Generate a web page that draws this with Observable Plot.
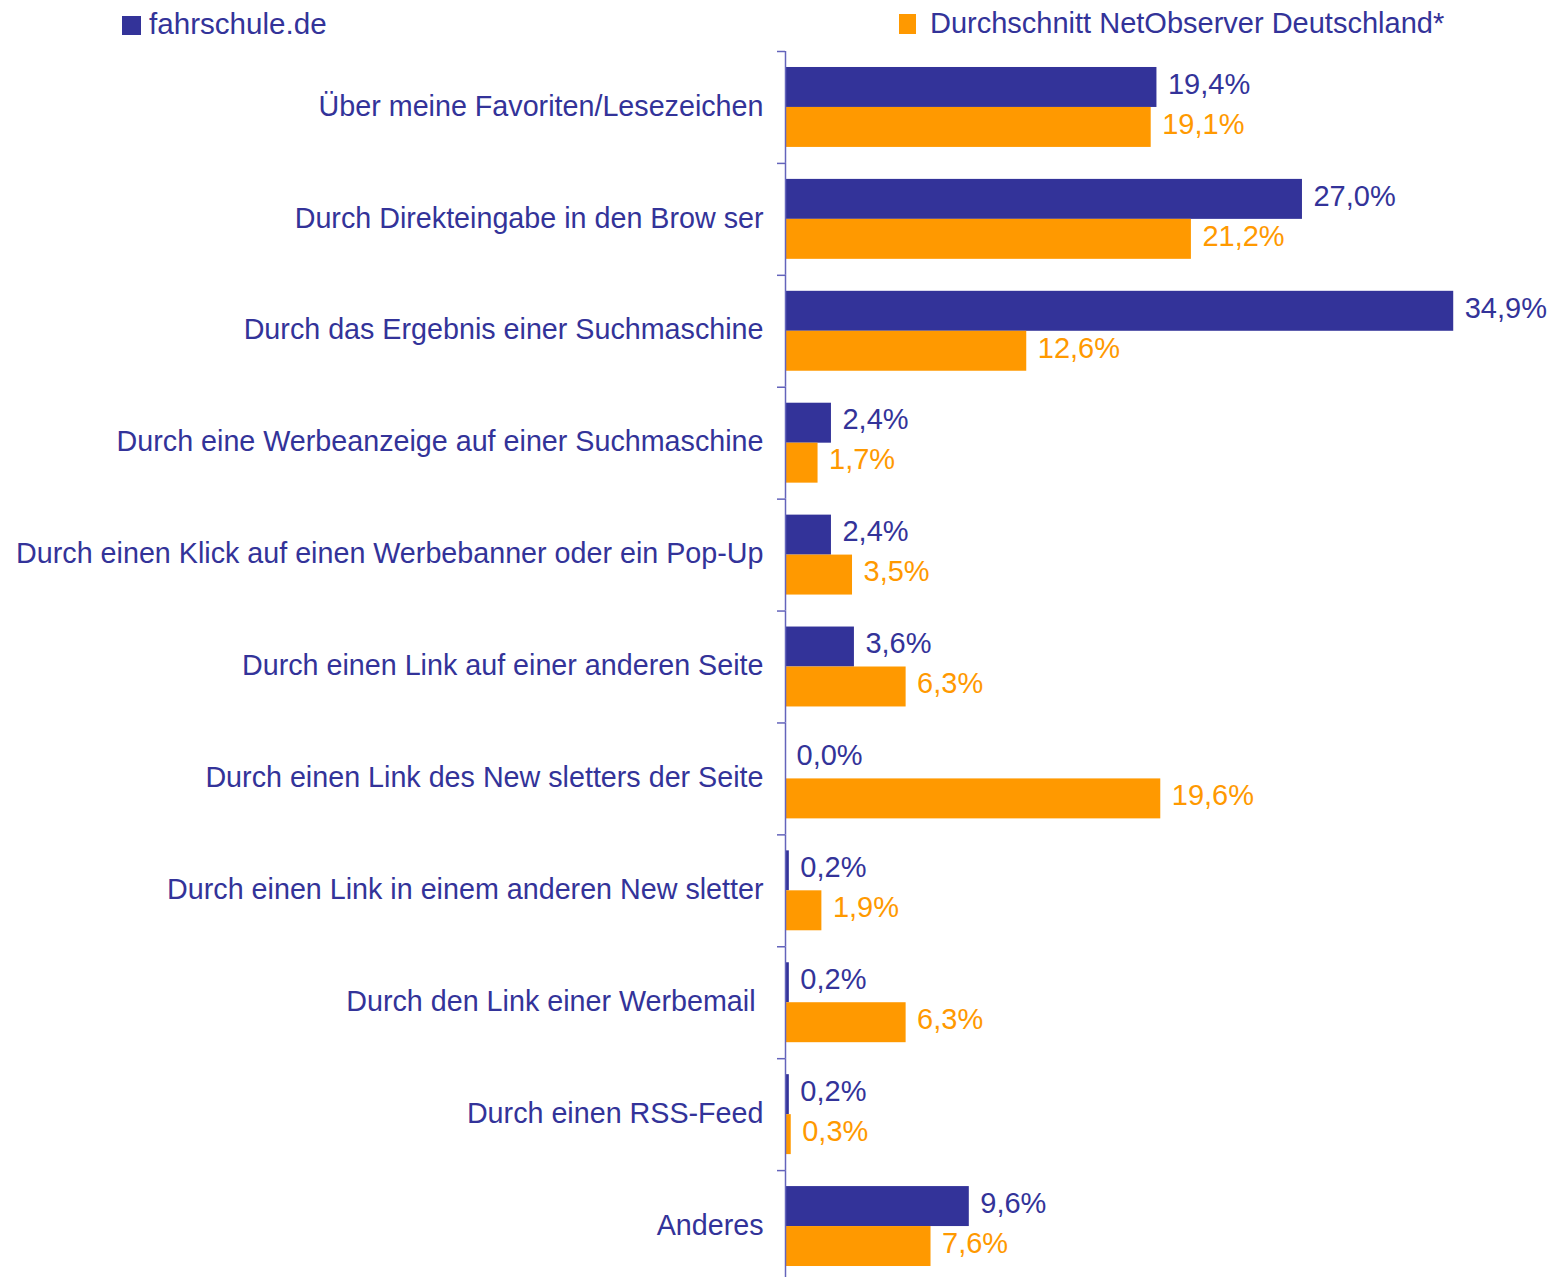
<!DOCTYPE html>
<html>
<head>
<meta charset="utf-8">
<script src="https://cdn.jsdelivr.net/npm/d3@7"></script>
<script src="https://cdn.jsdelivr.net/npm/@observablehq/plot@0.6"></script>
<style>
  html, body { margin: 0; padding: 0; background: #fff; overflow: hidden; }
  body { font-family: "Liberation Sans", Arial, sans-serif; color: #333399; }
  #legend { position: relative; width: 1548px; height: 40px; }
  #legend .sw { position: absolute; }
  #legend .lb { position: absolute; line-height: 1; white-space: nowrap; color: #333399; }
  #chart svg { display: block; }
  #chart svg text { white-space: pre; }
</style>
</head>
<body>
<div id="legend"></div>
<div id="chart"></div>
<script>
const categories = [
  "Über meine Favoriten/Lesezeichen",
  "Durch Direkteingabe in den Brow ser",
  "Durch das Ergebnis einer Suchmaschine",
  "Durch eine Werbeanzeige auf einer Suchmaschine",
  "Durch einen Klick auf einen Werbebanner oder ein Pop-Up",
  "Durch einen Link auf einer anderen Seite",
  "Durch einen Link des New sletters der Seite",
  "Durch einen Link in einem anderen New sletter",
  "Durch den Link einer Werbemail ",
  "Durch einen RSS-Feed",
  "Anderes"
];
const seriesNames = ["fahrschule.de", "Durchschnitt NetObserver Deutschland*"];
const fahrschule = [19.4, 27.0, 34.9, 2.4, 2.4, 3.6, 0.0, 0.2, 0.2, 0.2, 9.6];
const netobserver = [19.1, 21.2, 12.6, 1.7, 3.5, 6.3, 19.6, 1.9, 6.3, 0.3, 7.6];
const seriesColors = ["#333399", "#FF9900"];
const xDomain = [0, 39.85];

const rows = [];
categories.forEach((c, i) => {
  rows.push({category: c, series: seriesNames[0], value: fahrschule[i]});
  rows.push({category: c, series: seriesNames[1], value: netobserver[i]});
});

const fmt = v => d3.format(".1f")(v).replace(".", ",") + "%";
const navy = seriesColors[0];
const axisColor = "#6464bb";

// legend
const legend = document.getElementById("legend");
const legendItems = [
  {name: seriesNames[0], color: seriesColors[0], sx: 122, sy: 16, sw: 19, sh: 19, tx: 149, fs: 29.6},
  {name: seriesNames[1], color: seriesColors[1], sx: 899, sy: 14, sw: 17, sh: 20, tx: 930, fs: 29}
];
legendItems.forEach(it => {
  const s = document.createElement("div");
  s.className = "sw";
  s.style.cssText = `left:${it.sx}px;top:${it.sy}px;width:${it.sw}px;height:${it.sh}px;background:${it.color}`;
  legend.appendChild(s);
  const t = document.createElement("div");
  t.className = "lb";
  t.style.cssText = `left:${it.tx}px;top:9px;font-size:${it.fs}px;`;
  t.textContent = it.name;
  legend.appendChild(t);
});

const H = 1242, MT = 11;
const facetH = (H - MT) / categories.length;

const chart = Plot.plot({
  width: 1548,
  height: H,
  marginTop: MT,
  marginBottom: 0,
  marginLeft: 785,
  marginRight: 0,
  style: {fontFamily: "'Liberation Sans', Arial, sans-serif", color: navy, background: "#fff"},
  x: {domain: xDomain, axis: null},
  y: {domain: seriesNames, axis: null, paddingInner: 0, paddingOuter: 0.4, round: false},
  fy: {domain: categories, padding: 0, axis: null, round: false},
  color: {domain: seriesNames, range: seriesColors},
  marks: [
    Plot.barX(rows, {x: "value", y: "series", fy: "category", fill: "series"}),
    Plot.text(rows, {
      x: "value", y: "series", fy: "category",
      text: d => fmt(d.value), fill: "series",
      textAnchor: "start", dx: 11, dy: -3, fontSize: 29
    }),
    Plot.ruleX([0], {stroke: axisColor, strokeWidth: 1.5}),
    Plot.axisFy({anchor: "left", tickSize: 8, tickFormat: () => "", stroke: axisColor, strokeWidth: 1.5, dy: -facetH / 2, label: null}),
    Plot.text(categories, {
      fy: d => d, text: d => d, frameAnchor: "left",
      textAnchor: "end", dx: -22, dy: -1, fontSize: 28.7, fill: navy
    })
  ]
});
document.getElementById("chart").appendChild(chart);
</script>
</body>
</html>
